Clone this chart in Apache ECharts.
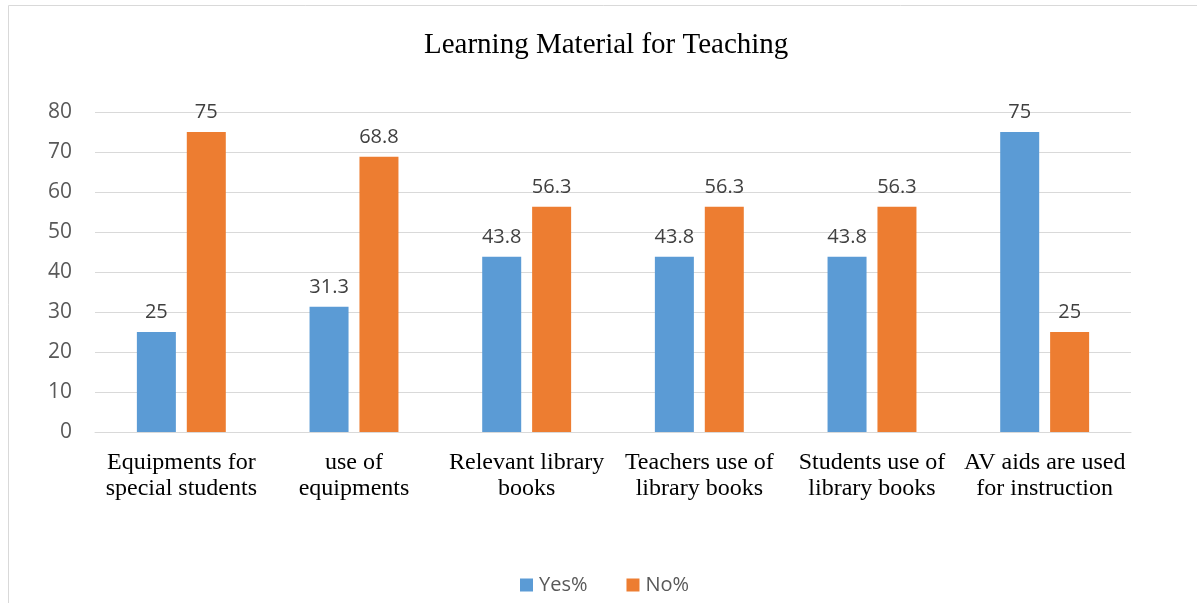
<!DOCTYPE html>
<html><head><meta charset="utf-8">
<script src="https://cdn.jsdelivr.net/npm/echarts@6/dist/echarts.min.js"></script>
<style>html,body{margin:0;padding:0;background:#fff}#c{width:1197px;height:603px}</style>
</head><body><div id="c"></div>
<script>
const categories = ['Equipments for\nspecial students','use of\nequipments','Relevant library\nbooks','Teachers use of\nlibrary books','Students use of\nlibrary books','AV aids are used\nfor instruction'];
const yesValues = [25, 31.3, 43.8, 43.8, 43.8, 75];
const noValues = [75, 68.8, 56.3, 56.3, 56.3, 25];
const yTicks = [0, 10, 20, 30, 40, 50, 60, 70, 80];

const chart = echarts.init(document.getElementById('c'));
const labelStyle = {show:true, position:'top', distance:10, color:'#404040', fontFamily:'Open Sans, Liberation Sans, sans-serif', fontSize:20};
chart.setOption({
  animation:false,
  graphic:[{type:'rect', shape:{x:8.5,y:5.5,width:1200,height:620}, style:{fill:'none', stroke:'#d9d9d9', lineWidth:1}, silent:true}],
  title:{text:'Learning Material for Teaching', left:419, top:26, textStyle:{fontFamily:'Liberation Serif, Times New Roman, serif', fontWeight:'normal', fontSize:29, color:'#000'}},
  legend:{bottom:3, left:515, itemWidth:13, itemHeight:13, itemGap:39, icon:'rect',
    textStyle:{fontFamily:'Open Sans, Liberation Sans, sans-serif', fontSize:20, color:'#595959', padding:[0,0,0,1]}, data:['Yes%','No%']},
  grid:{left:95, right:66, top:112, bottom:171},
  xAxis:{type:'category', data:categories, axisTick:{show:false},
    axisLine:{lineStyle:{color:'#d9d9d9'}},
    axisLabel:{interval:0, margin:18, color:'#000', fontFamily:'Liberation Serif, Times New Roman, serif', fontSize:24, lineHeight:26}},
  yAxis:{type:'value', min:0, max:80, interval:10,
    axisLine:{show:false}, axisTick:{show:false},
    splitLine:{lineStyle:{color:'#d9d9d9'}},
    axisLabel:{margin:23, color:'#595959', fontFamily:'Open Sans, Liberation Sans, sans-serif', fontSize:21,
      formatter:(v)=> yTicks.includes(v) ? String(v) : ''}},
  series:[
    {name:'Yes%', type:'bar', data:yesValues, itemStyle:{color:'#5b9bd5'}, barWidth:39, barGap:'28%', label:labelStyle},
    {name:'No%', type:'bar', data:noValues, itemStyle:{color:'#ed7d31'}, barWidth:39, barGap:'28%', label:labelStyle}
  ]
});
</script></body></html>
